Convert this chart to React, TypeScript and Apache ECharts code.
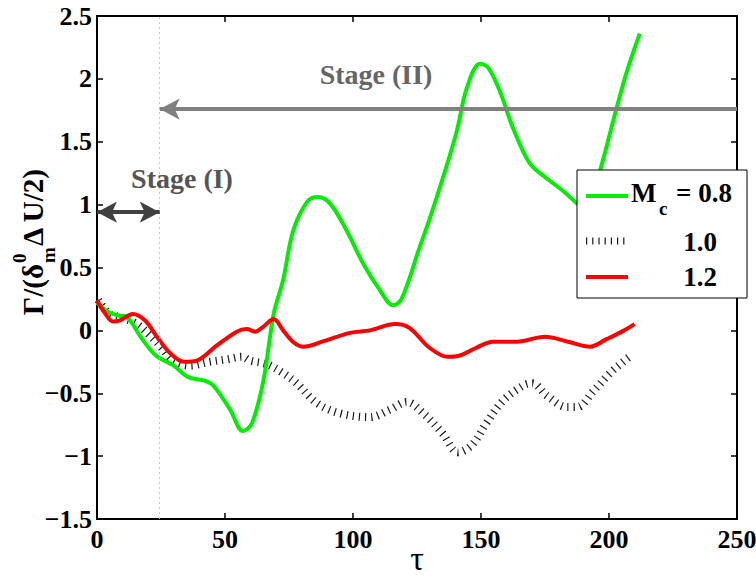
import React, { useEffect, useRef } from "react";
import * as echarts from "echarts";

// Circulation history for three convective Mach numbers
const tauM08 = [0, 4, 8, 12, 17, 23, 30, 35.5, 42, 45.5, 52, 57, 60.5, 65, 69, 72.7, 76.6, 82, 86.3, 91, 97.6, 104, 110.5, 115.6, 119, 126, 130, 136, 140.6, 144.5, 149.6, 152.8, 157.4, 162.5, 169, 175, 182, 187.5, 191.5, 196.5, 203, 207, 212];
const gammaM08 = [0.22, 0.15, 0.12, 0.1, -0.05, -0.2, -0.28, -0.37, -0.4, -0.44, -0.63, -0.8, -0.74, -0.4, 0.13, 0.4, 0.79, 1.02, 1.06, 1.01, 0.79, 0.53, 0.32, 0.2, 0.25, 0.66, 0.89, 1.27, 1.59, 1.93, 2.12, 2.09, 1.9, 1.61, 1.33, 1.22, 1.11, 1.01, 0.95, 1.27, 1.77, 2.06, 2.36];

const tauM10 = [0.5, 5, 10, 15.6, 20.7, 25.4, 29.7, 36.3, 44, 50.8, 56.6, 59.8, 66.4, 72.7, 78, 86, 95, 106.6, 114.5, 121, 127.5, 135, 141, 146.5, 152, 158.6, 166.4, 170, 175.8, 183.6, 187.5, 194, 200.4, 205.5, 208];
const gammaM10 = [0.24, 0.13, 0.1, 0.05, -0.04, -0.14, -0.24, -0.28, -0.25, -0.23, -0.21, -0.24, -0.27, -0.34, -0.42, -0.58, -0.66, -0.69, -0.63, -0.57, -0.66, -0.82, -0.97, -0.91, -0.74, -0.56, -0.44, -0.42, -0.52, -0.61, -0.61, -0.48, -0.34, -0.25, -0.21];

const tauM12 = [0, 3, 6.3, 9, 14, 18.7, 23.4, 28.5, 34, 39, 46.8, 54.6, 58.5, 61.7, 65, 69, 72.7, 76.5, 80.6, 88, 98.8, 106.6, 116.4, 122, 130, 137, 141.8, 148, 154.7, 164, 175, 184, 192.6, 199, 205, 210];
const gammaM12 = [0.24, 0.14, 0.07, 0.08, 0.13, 0.08, -0.05, -0.18, -0.25, -0.24, -0.12, -0.01, 0.01, -0.01, 0.03, 0.09, 0.0, -0.09, -0.13, -0.09, -0.02, 0.0, 0.05, 0.02, -0.14, -0.21, -0.2, -0.14, -0.09, -0.09, -0.05, -0.09, -0.13, -0.07, -0.01, 0.05];

const legendLabels = ["0.8", "1.0", "1.2"];

// Stage markers
const stageBoundaryTau = 24.5;
const stageTwoLevel = 1.76;
const stageOneLevel = 0.94;

const xMin = 0;
const xMax = 250;
const xStep = 50;
const yMin = -1.5;
const yMax = 2.5;
const yStep = 0.5;

const SERIF = "Liberation Serif, Times New Roman, serif";

const pairs = (xs: number[], ys: number[]) => xs.map((x, i) => [x, ys[i]]);

const txt = (
  x: number,
  y: number,
  text: string,
  size: number,
  align: string,
  fill = "#000",
  z = 100
) => ({
  type: "text",
  x,
  y,
  z,
  style: {
    text,
    fill,
    fontFamily: SERIF,
    fontWeight: "bold",
    fontSize: size,
    align,
    verticalAlign: "middle",
  },
});

export default function App() {
  const ref = useRef<HTMLDivElement>(null);

  useEffect(() => {
    if (!ref.current) return;
    const chart = echarts.init(ref.current, undefined, { renderer: "svg" });

    const tickLabel = {
      color: "#000",
      fontFamily: SERIF,
      fontWeight: "bold" as const,
      fontSize: 26,
    };
    const frameLine = { onZero: false, lineStyle: { color: "#000", width: 2 } };
    const innerTicks = { inside: true, length: 6, lineStyle: { color: "#000", width: 1.5 } };

    chart.setOption({
      animation: false,
      backgroundColor: "#fff",
      grid: { left: 97, right: 19, top: 16, bottom: 59, outerBoundsMode: "none", containLabel: false },
      xAxis: [
        {
          type: "value",
          min: xMin,
          max: xMax,
          interval: xStep,
          axisLine: frameLine,
          axisTick: innerTicks,
          splitLine: { show: false },
          axisLabel: { ...tickLabel, margin: 7 },
          name: "τ",
          nameLocation: "middle",
          nameGap: 39,
          nameMoveOverlap: false,
          nameTextStyle: { fontFamily: SERIF, fontSize: 34, color: "#000", verticalAlign: "middle" },
        },
        {
          type: "value",
          position: "top",
          min: xMin,
          max: xMax,
          interval: xStep,
          axisLine: frameLine,
          axisTick: innerTicks,
          splitLine: { show: false },
          axisLabel: { show: false },
        },
      ],
      yAxis: [
        {
          type: "value",
          min: yMin,
          max: yMax,
          interval: yStep,
          axisLine: frameLine,
          axisTick: innerTicks,
          splitLine: { show: false },
          axisLabel: {
            ...tickLabel,
            margin: 5,
            formatter: (v: number) => (v < 0 ? "\u2212" + String(Math.abs(v)) : String(v)),
          },
        },
        {
          type: "value",
          position: "right",
          min: yMin,
          max: yMax,
          interval: yStep,
          axisLine: frameLine,
          axisTick: innerTicks,
          splitLine: { show: false },
          axisLabel: { show: false },
        },
      ],
      series: [
        {
          name: "guides",
          type: "line",
          data: [],
          z: 1,
          markLine: {
            silent: true,
            animation: false,
            label: { show: false },
            symbol: "none",
            data: [
              {
                xAxis: stageBoundaryTau,
                lineStyle: { color: "#c8c8c8", width: 1, type: [2, 3] },
              },
            ],
          },
        },
        {
          name: "M08",
          type: "line",
          data: pairs(tauM08, gammaM08),
          smooth: 0.35,
          showSymbol: false,
          z: 3,
          lineStyle: { color: "#00ee00", width: 4 },
        },
        {
          name: "M10",
          type: "line",
          data: pairs(tauM10, gammaM10),
          smooth: 0.35,
          showSymbol: false,
          z: 2,
          lineStyle: { color: "#1a1a1a", width: 8, type: [1.2, 5], cap: "butt" },
        },
        {
          name: "M12",
          type: "line",
          data: pairs(tauM12, gammaM12),
          smooth: 0.35,
          showSymbol: false,
          z: 4,
          lineStyle: { color: "#ff0000", width: 4 },
        },
        {
          name: "annotations",
          type: "line",
          data: [],
          z: 5,
          markLine: {
            silent: true,
            animation: false,
            label: { show: false },
            data: [
              [
                { yAxis: 0, symbol: "none", lineStyle: { color: "#000", width: 1, type: "solid" } },
                { yAxis: 0, symbol: "none" },
              ],
              [
                { coord: [xMax, stageTwoLevel], symbol: "none", lineStyle: { color: "#808080", width: 4, type: "solid" } },
                { coord: [stageBoundaryTau, stageTwoLevel], symbol: "arrow", symbolSize: [16, 20] },
              ],
              [
                { coord: [xMin, stageOneLevel], symbol: "arrow", symbolSize: [16, 20], lineStyle: { color: "#404040", width: 4, type: "solid" } },
                { coord: [stageBoundaryTau, stageOneLevel], symbol: "arrow", symbolSize: [16, 20] },
              ],
            ],
          },
        },
      ],
      graphic: [
        txt(376, 74, "Stage (II)", 28, "center", "#666", 10),
        txt(182, 178, "Stage (I)", 28, "center", "#555", 10),
        // vertical axis title
        {
          type: "group",
          x: 33,
          y: 246,
          rotation: Math.PI / 2,
          children: [
            txt(-18, 0, "Γ/(δ", 29, "right", "#000", 10),
            txt(-17, -14, "0", 19, "left", "#000", 10),
            txt(-17, 15, "m", 19, "left", "#000", 10),
            txt(0, 0, "Δ U/2)", 29, "left", "#000", 10),
          ],
        },
        // legend box
        {
          type: "rect",
          z: 100,
          shape: { x: 577, y: 170, width: 170, height: 128 },
          style: { fill: "#fff", stroke: "#000", lineWidth: 1 },
        },
        {
          type: "line",
          z: 101,
          shape: { x1: 586, y1: 196, x2: 628, y2: 196 },
          style: { stroke: "#00ee00", lineWidth: 4 },
        },
        {
          type: "line",
          z: 101,
          shape: { x1: 586, y1: 241, x2: 627, y2: 241 },
          style: { stroke: "#1a1a1a", lineWidth: 7, lineDash: [1.2, 5] },
        },
        {
          type: "line",
          z: 101,
          shape: { x1: 586, y1: 277, x2: 628, y2: 277 },
          style: { stroke: "#ff0000", lineWidth: 4 },
        },
        txt(631, 193, "M", 27, "left", "#000", 101),
        txt(659, 208, "c", 19, "left", "#000", 101),
        txt(676, 193, "= " + legendLabels[0], 27, "left", "#000", 101),
        txt(700, 242, legendLabels[1], 27, "center", "#000", 101),
        txt(700, 277, legendLabels[2], 27, "center", "#000", 101),
      ],
    });

    return () => chart.dispose();
  }, []);

  return (
    <div
      ref={ref}
      style={{ position: "fixed", left: 0, top: 0, width: 756, height: 578, background: "#fff" }}
    />
  );
}
